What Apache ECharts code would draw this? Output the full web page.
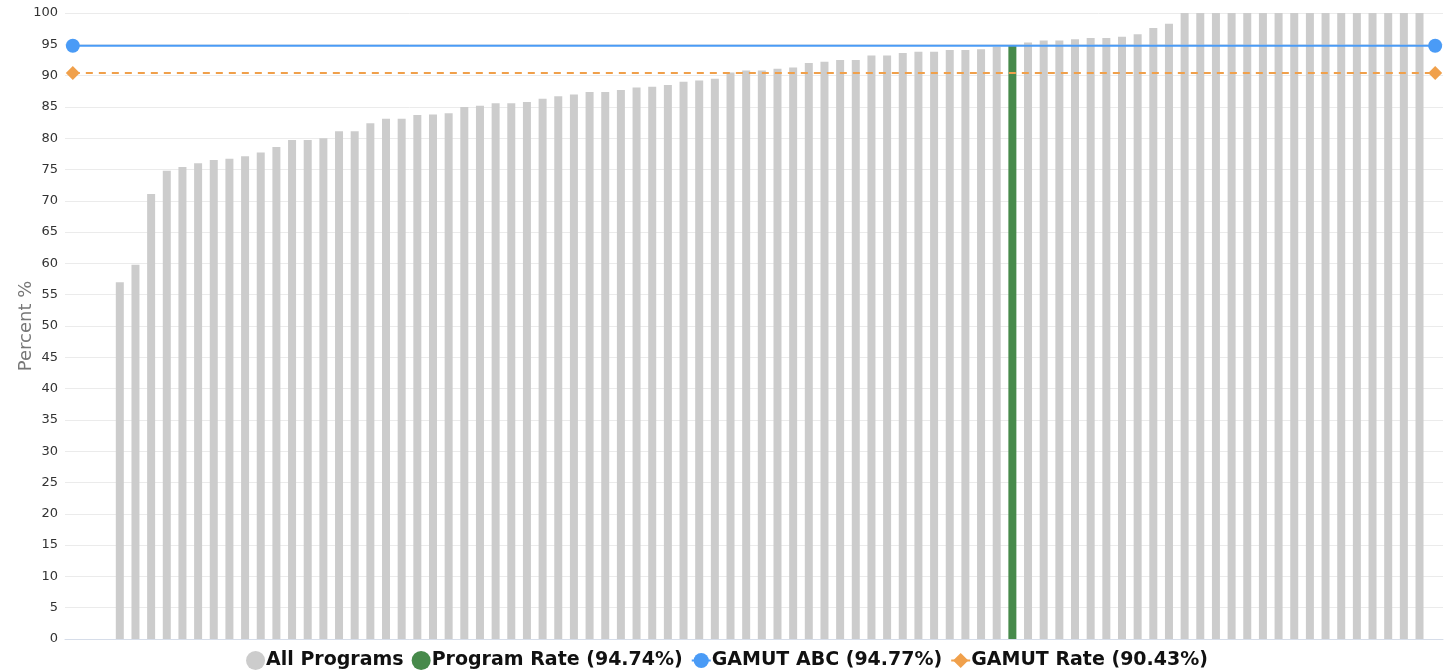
<!DOCTYPE html>
<html>
<head>
    <meta charset="utf-8">
    <title>Program Rate</title>
    <script src="https://cdn.jsdelivr.net/npm/echarts@6/dist/echarts.min.js"></script>
    <style>
        html, body { margin: 0; padding: 0; background: #fff; }
        #chart { width: 1454px; height: 672px; }
    </style>
</head>
<body>
<div id="chart"></div>
<script>
    // all program rates, sorted (84 programs)
    var allPrograms = [
        57.0, 59.8, 71.1, 74.8, 75.4, 76.0, 76.5, 76.7, 77.1, 77.7,
        78.6, 79.7, 79.7, 80.0, 81.1, 81.1, 82.4, 83.1, 83.1, 83.7,
        83.8, 84.0, 85.0, 85.2, 85.6, 85.6, 85.8, 86.3, 86.7, 87.0,
        87.4, 87.4, 87.7, 88.1, 88.2, 88.5, 89.0, 89.2, 89.5, 90.5,
        90.8, 90.8, 91.1, 91.3, 92.0, 92.2, 92.5, 92.5, 93.2, 93.2,
        93.6, 93.8, 93.8, 94.1, 94.1, 94.2, 94.6, 94.74, 95.3, 95.6,
        95.6, 95.8, 96.0, 96.0, 96.2, 96.6, 97.6, 98.3, 100, 100,
        100, 100, 100, 100, 100, 100, 100, 100, 100, 100,
        100, 100, 100, 100
    ];
    var programIndex = 57;      // position of this program among allPrograms
    var programRate = 94.74;
    var gamutAbc = 94.77;
    var gamutRate = 90.43;
    var padLeft = 3, padRight = 1;   // empty slots at the ends of the axis

    var yTicks = { min: 0, max: 100, interval: 5 };

    var categories = [];
    var greyData = [], greenData = [], abcData = [], rateData = [];
    var total = padLeft + allPrograms.length + padRight;
    for (var i = 0; i < total; i++) {
        categories.push(String(i + 1));
        var k = i - padLeft;
        var v = (k >= 0 && k < allPrograms.length) ? allPrograms[k] : null;
        if (k === programIndex) {
            greyData.push(null);
            greenData.push(programRate);
        } else {
            greyData.push(v);
            greenData.push(null);
        }
        var edge = (i === 0 || i === total - 1);
        abcData.push(edge ? gamutAbc : null);
        rateData.push(edge ? gamutRate : null);
    }

    var myChart = echarts.init(document.getElementById('chart'));
    var option = {
        animation: false,
        grid: { left: 65, right: 11, top: 13, bottom: 33, containLabel: false },
        legend: {
            bottom: -3,
            left: 'center',
            itemGap: 8,
            itemWidth: 19,
            itemHeight: 19,
            textStyle: {
                fontFamily: 'DejaVu Sans',
                fontWeight: 'bold',
                fontSize: 19,
                color: '#111',
                padding: [0, 0, 0, -4]
            },
            data: [
                { name: 'All Programs', icon: 'circle' },
                { name: 'Program Rate (' + programRate + '%)', icon: 'circle' },
                { name: 'GAMUT ABC (' + gamutAbc + '%)' },
                { name: 'GAMUT Rate (' + gamutRate + '%)' }
            ]
        },
        xAxis: {
            type: 'category',
            data: categories,
            axisLabel: { show: false },
            axisTick: { show: false },
            axisLine: { lineStyle: { color: '#d6dde9' } }
        },
        yAxis: {
            type: 'value',
            min: yTicks.min,
            max: yTicks.max,
            interval: yTicks.interval,
            name: 'Percent %',
            nameLocation: 'middle',
            nameGap: 30,
            nameMoveOverlap: false,
            nameTextStyle: { fontFamily: 'DejaVu Sans', fontSize: 18, color: '#777' },
            axisLabel: { fontFamily: 'DejaVu Sans', fontSize: 13, color: '#333', margin: 7 },
            splitLine: { lineStyle: { color: '#ebebeb' } }
        },
        series: [
            {
                name: 'All Programs',
                type: 'bar',
                data: greyData,
                barWidth: 8,
                itemStyle: { color: '#cccccc' }
            },
            {
                name: 'Program Rate (' + programRate + '%)',
                type: 'bar',
                data: greenData,
                barWidth: 8,
                barGap: '-100%',
                itemStyle: { color: '#478a4b' }
            },
            {
                name: 'GAMUT ABC (' + gamutAbc + '%)',
                type: 'line',
                data: abcData,
                connectNulls: true,
                showSymbol: true,
                showAllSymbol: true,
                symbol: 'circle',
                symbolSize: 14,
                z: 5,
                itemStyle: { color: '#4a9bf6' },
                lineStyle: { width: 2, color: '#4a9bf6' }
            },
            {
                name: 'GAMUT Rate (' + gamutRate + '%)',
                type: 'line',
                data: rateData,
                connectNulls: true,
                showSymbol: true,
                showAllSymbol: true,
                symbol: 'diamond',
                symbolSize: 14,
                z: 5,
                itemStyle: { color: '#f0a04b' },
                lineStyle: { width: 2, type: [7, 6], color: '#f0a04b' }
            }
        ]
    };
    myChart.setOption(option);
</script>
</body>
</html>
